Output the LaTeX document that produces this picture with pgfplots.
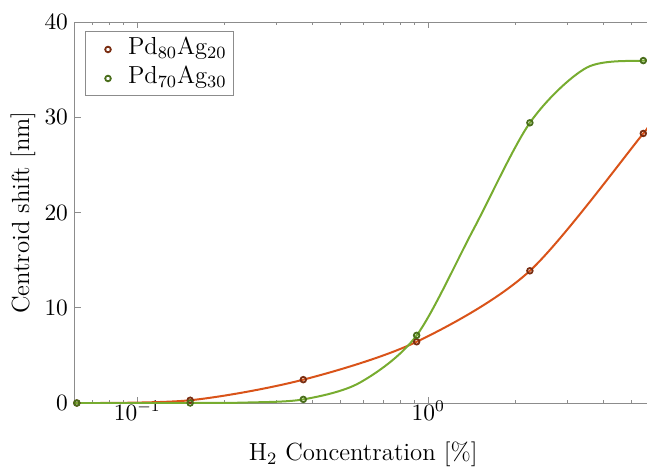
\RequirePackage{fix-cm}
\documentclass[border=0pt]{standalone}
\usepackage{fontspec}
\usepackage{pgfplots}
\pgfplotsset{compat=1.18}

\definecolor{pdAline}{HTML}{D95319}
\definecolor{pdAmark}{HTML}{7A2E12}
\definecolor{pdBline}{HTML}{77AC30}
\definecolor{pdBmark}{HTML}{4A6E1C}
\definecolor{axgray}{HTML}{8C8C8C}

% measured centroid shifts
\pgfplotstableread{
conc   shift
0.062  0
0.152  0.29
0.372  2.45
0.912  6.43
2.234  13.88
5.48   28.3
}\pdeighty
\pgfplotstableread{
conc   shift
0.062  0
0.152  0
0.372  0.38
0.912  7.1
2.234  29.42
5.48   35.95
}\pdseventy

% fitted response curves
\pgfplotstableread{
conc   shift
0.0611 0
0.152  0.29
0.372  2.45
0.912  6.43
2.234  13.88
5.48   28.3
5.643  28.8
}\fiteighty
\pgfplotstableread{
conc   shift
0.0611 0
0.097  0
0.152  0
0.238  0.05
0.372  0.38
0.582  2.14
0.912  7.1
1.428  18.2
2.234  29.42
3.497  35.2
5.48   35.95
5.643  35.92
}\fitseventy

% legend symbol: a single marker set in from the left of an 18pt cell
\pgfplotsset{
  legend mark/.style={
    legend image code/.code={%
      \draw[draw=none] (0pt,0pt) -- (18pt,0pt);
      \begin{scope}[shift={(8pt,0pt)}]
        \draw[##1, mark repeat=1] plot coordinates {(0pt,0pt)};
      \end{scope}}},
}

\begin{document}
\begin{tikzpicture}
\useasboundingbox (-37.5pt,-32pt) rectangle (286pt,201.5pt);
\begin{axis}[
  at={(0,0)}, anchor=south west,
  scale only axis, width=286pt, height=190.5pt,
  xmode=log, log basis x=10,
  xmin=0.0611, xmax=5.643, ymin=0, ymax=40,
  ytick={0,10,20,30,40},
  axis x line*=box, axis y line*=left,
  axis line style={axgray, line width=0.5pt},
  tick style={axgray, line width=0.5pt},
  major tick length=3pt, minor tick length=1.6pt,
  tick align=inside,
  xticklabel style={font=\fontsize{11.7}{13}\selectfont, text=black, yshift=4.5pt},
  yticklabel style={font=\fontsize{11.7}{13}\selectfont, text=black},
  xlabel={H$_2$ Concentration [\%]},
  ylabel={Centroid shift [nm]},
  xlabel style={font=\fontsize{12.4}{14}\selectfont, at={(axis description cs:0.504,-0.1512)}, anchor=base},
  ylabel style={font=\fontsize{12.4}{14}\selectfont, at={(axis description cs:-0.0909,0.5)}, anchor=center, rotate=0},
  legend style={at={(axis description cs:0.0175,0.9738)}, anchor=north west,
    draw=axgray, line width=0.5pt, font=\fontsize{12.3}{14}\selectfont,
    inner xsep=3.5pt, inner ysep=2.5pt, outer sep=0pt,
    row sep=2pt, column sep=0pt,
    nodes={inner sep=0pt, text height=9pt, text depth=3.5pt}},
  legend cell align=left,
]
\addplot[pdAline, line width=1pt, smooth, forget plot] table[x=conc, y=shift] {\fiteighty};
\addplot[pdBline, line width=1pt, smooth, forget plot] table[x=conc, y=shift] {\fitseventy};
\addplot[only marks, mark=o, mark size=1.4pt, mark options={draw=pdAmark, line width=0.9pt}, legend mark] table[x=conc, y=shift] {\pdeighty};
\addlegendentry{Pd$_{80}$Ag$_{20}$}
\addplot[only marks, mark=o, mark size=1.4pt, mark options={draw=pdBmark, line width=0.9pt}, legend mark] table[x=conc, y=shift] {\pdseventy};
\addlegendentry{Pd$_{70}$Ag$_{30}$}
\end{axis}
\end{tikzpicture}
\end{document}
